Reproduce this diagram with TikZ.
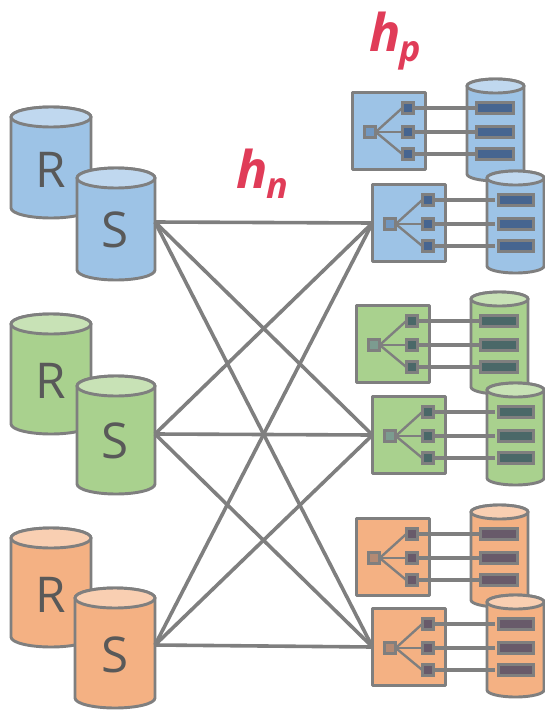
\documentclass[tikz,border=0pt]{standalone}
\usepackage{fontspec}
\setmainfont{Open Sans}
\definecolor{ln}{HTML}{7F7F7F}
\definecolor{txt}{HTML}{595959}
\definecolor{red1}{HTML}{E03C58}
\definecolor{bF}{HTML}{9DC3E6}\definecolor{bT}{HTML}{C0D8EF}\definecolor{bL}{HTML}{466590}\definecolor{bR}{HTML}{7198C2}
\definecolor{gF}{HTML}{A9D18E}\definecolor{gT}{HTML}{C8E2B6}\definecolor{gL}{HTML}{4A6868}\definecolor{gR}{HTML}{7C9C90}
\definecolor{oF}{HTML}{F4B183}\definecolor{oT}{HTML}{F9CFB2}\definecolor{oL}{HTML}{685A6A}\definecolor{oR}{HTML}{B38A74}
\tikzset{
  px/.style={x=0.75pt,y=-0.75pt},
  outline/.style={draw=ln,line width=2.2pt,line join=round},
  cylbody/.style={outline},
  grpbox/.style={outline,rectangle,inner sep=0pt,outer sep=0pt,minimum width=57pt-2.2pt,minimum height=60pt-2.2pt},
  smallsq/.style={draw=ln,line width=1.9pt,rectangle,inner sep=0pt,outer sep=0pt,minimum width=10.5pt-1.9pt,minimum height=10.5pt-1.9pt},
  innerbar/.style={draw=ln,line width=1.9pt,rectangle,inner sep=0pt,outer sep=0pt,minimum height=10.5pt-1.9pt},
  wire/.style={draw=ln,line width=2.6pt,line cap=round},
  twig/.style={draw=ln,line width=1.8pt},
  link/.style={draw=ln,line width=2.7pt},
  port/.style={rectangle,inner sep=0pt,outer sep=0pt,minimum width=58.5pt,minimum height=1pt},
  dblabel/.style={text=txt,font=\fontsize{37}{37}\selectfont,inner sep=0pt},
  hlabel/.style={text=red1,inner sep=0pt,font=\bfseries\itshape\fontsize{39}{39}\selectfont},
}
% #1 left, #2 right, #3 top extreme, #4 bottom extreme, #5 ry, #6 body, #7 top
\newcommand{\cyl}[7]{%
  \pgfmathsetmacro{\cx}{(#1+#2)/2}\pgfmathsetmacro{\rx}{(#2-#1)/2}%
  \pgfmathsetmacro{\cyt}{#3+#5}\pgfmathsetmacro{\cyb}{#4-#5}%
  \path[cylbody,fill=#6] (#1,\cyt) -- (#1,\cyb) arc[start angle=180,end angle=360,x radius=\rx,y radius=-#5] -- (#2,\cyt) arc[start angle=0,end angle=180,x radius=\rx,y radius=#5*-1] -- cycle;
  \path[cylbody,fill=#7] (\cx,\cyt) ellipse[x radius=\rx,y radius=#5];
}
% #1 name, #2 x, #3 y, #4 fill, #5 top, #6 leaf, #7 root, #8 inner bar left offset, #9 gap
\newcommand{\grp}[9]{%
  \pgfmathsetmacro{\bx}{#2+38}\pgfmathsetmacro{\by}{#3+40}%
  \pgfmathsetmacro{\rtx}{#2+19}\pgfmathsetmacro{\lfx}{#2+57}%
  \pgfmathsetmacro{\la}{#3+17}\pgfmathsetmacro{\lb}{#3+41}\pgfmathsetmacro{\lc}{#3+63}%
  \pgfmathsetmacro{\cl}{#2+116}\pgfmathsetmacro{\cR}{#2+173}%
  \pgfmathsetmacro{\ct}{#3-12}\pgfmathsetmacro{\cb}{#3+90}%
  \pgfmathsetmacro{\ibx}{#2+(#8+164)/2}\pgfmathsetmacro{\ibw}{(164-#8)*0.75}%
  \node[grpbox,fill=#4] (#1box) at (\bx,\by) {};
  \cyl{\cl}{\cR}{\ct}{\cb}{7}{#4}{#5}
  \node[smallsq,fill=#7] (#1root) at (\rtx,\lb) {};
  \node[smallsq,fill=#6] (#1a) at (\lfx,\la) {};
  \node[smallsq,fill=#6] (#1b) at (\lfx,\lb) {};
  \node[smallsq,fill=#6] (#1c) at (\lfx,\lc) {};
  \node[innerbar,fill=#6,minimum width=\ibw pt-1.9pt] (#1ia) at (\ibx,\la) {};
  \node[innerbar,fill=#6,minimum width=\ibw pt-1.9pt] (#1ib) at (\ibx,\lb) {};
  \node[innerbar,fill=#6,minimum width=\ibw pt-1.9pt] (#1ic) at (\ibx,\lc) {};
  \draw[twig] (#1root.east) -- (#1a.west);
  \draw[twig] (#1root.east) -- (#1b.west);
  \draw[twig] (#1root.east) -- (#1c.west);
  \draw[wire,line cap=butt,shorten >=#9] (#1a.east) -- (#1ia.west);
  \draw[wire,line cap=butt,shorten >=#9] (#1b.east) -- (#1ib.west);
  \draw[wire,line cap=butt,shorten >=#9] (#1c.east) -- (#1ic.west);
}
\begin{document}
\begin{tikzpicture}[px]
\useasboundingbox (0,0) rectangle (544,710);
% left databases
\cyl{11}{91}{107}{218}{10}{bF}{bT}
\node[dblabel] (rA) at (51,170) {R};
\cyl{77}{155}{168}{280}{10}{bF}{bT}
\node[dblabel] (tA) at (115,230) {S};
\node[port] (sA) at (116,222) {};
\cyl{11}{91}{314}{434}{10}{gF}{gT}
\node[dblabel] (rB) at (51,381) {R};
\cyl{77}{155}{376}{494}{10}{gF}{gT}
\node[dblabel] (tB) at (115,441) {S};
\node[port] (sB) at (116,434) {};
\cyl{11}{91}{528}{647}{10}{oF}{oT}
\node[dblabel] (rC) at (51,595) {R};
\cyl{75}{155}{588}{708}{10}{oF}{oT}
\node[dblabel] (tC) at (115,655) {S};
\node[port] (sC) at (116,645) {};
% right groups
\grp{pa}{351}{91}{bF}{bT}{bL}{bR}{124}{0pt}
\grp{na}{371}{183}{bF}{bT}{bL}{bR}{126}{2.2pt}
\grp{pb}{355}{304}{gF}{gT}{gL}{gR}{124}{0pt}
\grp{nb}{371}{395}{gF}{gT}{gL}{gR}{126}{2.2pt}
\grp{pc}{355}{517}{oF}{oT}{oL}{oR}{124}{0pt}
\grp{nc}{371}{607}{oF}{oT}{oL}{oR}{126}{2.2pt}
% links
\foreach \s in {sA,sB,sC}{
  \foreach \t in {na,nb,nc}{
    \draw[link] (\s.east) -- (\t box.west);
  }
}
\node[hlabel,anchor=base west] (hp) at (369,52) {h};
\node[hlabel,anchor=base west,font=\bfseries\itshape\fontsize{27}{27}\selectfont] (hpsub) at (399,62) {p};
\node[hlabel,anchor=base west] (hn) at (236,188) {h};
\node[hlabel,anchor=base west,font=\bfseries\itshape\fontsize{27}{27}\selectfont] (hnsub) at (266,198) {n};
\end{tikzpicture}
\end{document}
